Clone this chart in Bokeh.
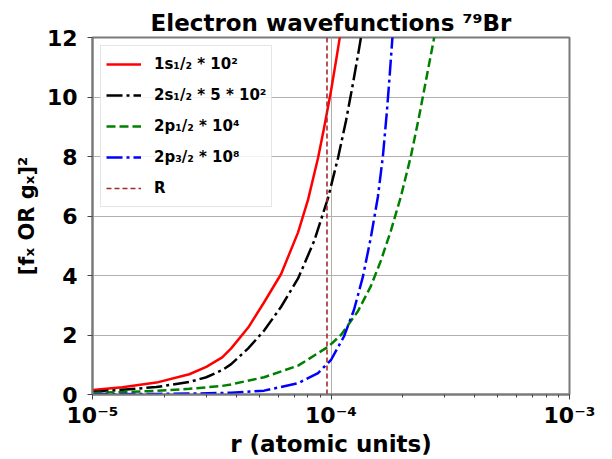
from bokeh.plotting import figure
from bokeh.models import Range1d, FixedTicker, CustomJSTickFormatter
from bokeh.embed import file_html
from bokeh.resources import INLINE

# ---------------- data ----------------
title_text = "Electron wavefunctions \u2077\u2079Br"
x_label = "r (atomic units)"
y_label = "[f\u2093 OR g\u2093]\u00b2"

label_1s = "1s\u2081/\u2082 * 10\u00b2"
label_2s = "2s\u2081/\u2082 * 5 * 10\u00b2"
label_2p1 = "2p\u2081/\u2082 * 10\u2074"
label_2p3 = "2p\u2083/\u2082 * 10\u2078"
label_R = "R"

r_1s = [1.0e-5, 1.335e-5, 1.852e-5, 2.546e-5, 3.0e-5, 3.499e-5, 3.815e-5, 4.496e-5,
        5.244e-5, 6.178e-5, 7.277e-5, 8.014e-5, 8.823e-5, 9.347e-5, 1.0e-4,
        1.049e-4, 1.091e-4, 1.122e-4]
y_1s = [0.15, 0.24, 0.40, 0.68, 0.93, 1.25, 1.55, 2.25,
        3.1, 4.05, 5.45, 6.55, 7.95, 8.95, 10.2,
        11.2, 12.05, 12.8]

r_2s = [1.0e-5, 1.852e-5, 2.546e-5, 3.0e-5, 3.499e-5, 3.815e-5, 4.496e-5, 5.244e-5,
        6.178e-5, 7.277e-5, 8.49e-5, 9.714e-5, 1.070e-4, 1.156e-4, 1.236e-4,
        1.310e-4, 1.348e-4, 1.388e-4]
y_2s = [0.08, 0.25, 0.42, 0.58, 0.82, 1.02, 1.55, 2.15,
        2.95, 3.9, 5.15, 6.6, 7.95, 9.2, 10.45,
        11.6, 12.2, 12.9]

r_2p1 = [1.0e-5, 1.852e-5, 2.546e-5, 3.499e-5, 3.815e-5, 5.244e-5, 7.277e-5, 9.714e-5,
         1.101e-4, 1.297e-4, 1.471e-4, 1.619e-4, 1.782e-4, 1.963e-4, 2.161e-4,
         2.335e-4, 2.521e-4, 2.723e-4, 2.804e-4]
y_2p1 = [0.05, 0.12, 0.19, 0.29, 0.34, 0.58, 0.97, 1.6,
         2.0, 2.8, 3.65, 4.5, 5.5, 6.65, 8.0,
         9.3, 10.7, 12.1, 12.7]

r_2p3 = [1.0e-5, 1.852e-5, 2.546e-5, 3.499e-5, 3.815e-5, 5.244e-5, 7.277e-5, 8.823e-5,
         1.0e-4, 1.133e-4, 1.248e-4, 1.361e-4, 1.471e-4, 1.573e-4, 1.650e-4,
         1.715e-4, 1.765e-4, 1.817e-4, 1.852e-4]
y_2p3 = [0.005, 0.02, 0.03, 0.05, 0.06, 0.13, 0.38, 0.72,
         1.16, 1.95, 2.84, 3.96, 5.3, 6.65, 8.0,
         9.5, 10.8, 12.2, 13.0]

R_nucleus = 9.62e-5

x_limits = (1e-5, 1e-3)
y_limits = (0, 12)
y_ticks = [0, 2, 4, 6, 8, 10, 12]
x_major_ticks = [1e-5, 1e-4, 1e-3]
x_minor_ticks = [m * 10.0 ** e for e in (-5, -4) for m in range(2, 10)]

# ---------------- figure ----------------
FONT = "DejaVu Sans"
FRAME_COLOR = "#7a7a7a"

p = figure(
    frame_width=477, frame_height=357,
    x_axis_type="log",
    x_range=Range1d(*x_limits), y_range=Range1d(*y_limits),
    output_backend="svg", toolbar_location=None,
    title=title_text,
    min_border_left=92, min_border_right=40,
    min_border_top=37, min_border_bottom=64,
)
p.background_fill_color = "white"
p.border_fill_color = "white"
p.outline_line_color = FRAME_COLOR
p.outline_line_width = 2

p.title.text_font = FONT
p.title.text_font_style = "bold"
p.title.text_font_size = "23px"
p.title.align = "center"
p.title.standoff = 4
p.title.text_color = "black"

# axes
for ax in (p.xaxis[0], p.yaxis[0]):
    ax.axis_line_color = FRAME_COLOR
    ax.axis_line_width = 2
    ax.major_tick_line_color = "#444444"
    ax.minor_tick_line_color = "#444444"
    ax.major_tick_in = 0
    ax.major_tick_out = 5
    ax.minor_tick_in = 0
    ax.minor_tick_out = 3
    ax.major_label_text_font = FONT
    ax.major_label_text_font_style = "bold"
    ax.major_label_text_font_size = "22px"
    ax.major_label_text_color = "black"
    ax.axis_label_text_font = FONT
    ax.axis_label_text_font_style = "bold"
    ax.axis_label_text_color = "black"

p.xaxis[0].ticker = FixedTicker(ticks=x_major_ticks, minor_ticks=x_minor_ticks)
p.xaxis[0].formatter = CustomJSTickFormatter(code="""
const e = Math.round(Math.log10(tick));
const sup = {"-": "\\u207b", "0": "\\u2070", "1": "\\u00b9", "2": "\\u00b2", "3": "\\u00b3",
             "4": "\\u2074", "5": "\\u2075", "6": "\\u2076", "7": "\\u2077", "8": "\\u2078", "9": "\\u2079"};
return "10" + String(e).split("").map(c => sup[c]).join("");
""")
p.xaxis[0].axis_label = x_label
p.xaxis[0].axis_label_text_font_size = "23px"
p.xaxis[0].major_label_standoff = 3
p.xaxis[0].axis_label_standoff = 0

p.yaxis[0].ticker = FixedTicker(ticks=y_ticks, minor_ticks=[])
p.yaxis[0].axis_label = y_label
p.yaxis[0].axis_label_text_font_size = "21px"
p.yaxis[0].major_label_standoff = 10
p.yaxis[0].axis_label_standoff = 5

p.xgrid.grid_line_color = "#b0b0b0"
p.ygrid.grid_line_color = "#b0b0b0"
p.xgrid.grid_line_width = 1
p.ygrid.grid_line_width = 1

# ---------------- curves ----------------
common = dict(line_width=2.5, line_join="round")
p.line(r_1s, y_1s, line_color="#ff0000", legend_label=label_1s, **common)
p.line(r_2s, y_2s, line_color="#000000", line_dash="16 4 3 4", legend_label=label_2s, **common)
p.line(r_2p1, y_2p1, line_color="#008000", line_dash="9 4", legend_label=label_2p1, **common)
p.line(r_2p3, y_2p3, line_color="#0000ff", line_dash="16 4 3 4", legend_label=label_2p3, **common)
p.line([R_nucleus, R_nucleus], list(y_limits), line_color="#a52a2a", line_width=1.6,
       line_dash="5 3", legend_label=label_R)

# ---------------- legend ----------------
lg = p.legend[0]
lg.location = "top_left"
lg.margin = 8
lg.padding = 5
lg.spacing = 5
lg.glyph_width = 35
lg.glyph_height = 26
lg.label_height = 26
lg.label_standoff = 13
lg.label_text_font = FONT
lg.label_text_font_style = "bold"
lg.label_text_font_size = "15px"
lg.label_text_color = "black"
lg.border_line_color = "#cccccc"
lg.border_line_width = 1
lg.background_fill_color = "white"
lg.background_fill_alpha = 0.85

open("out.html", "w").write(file_html(p, INLINE))
